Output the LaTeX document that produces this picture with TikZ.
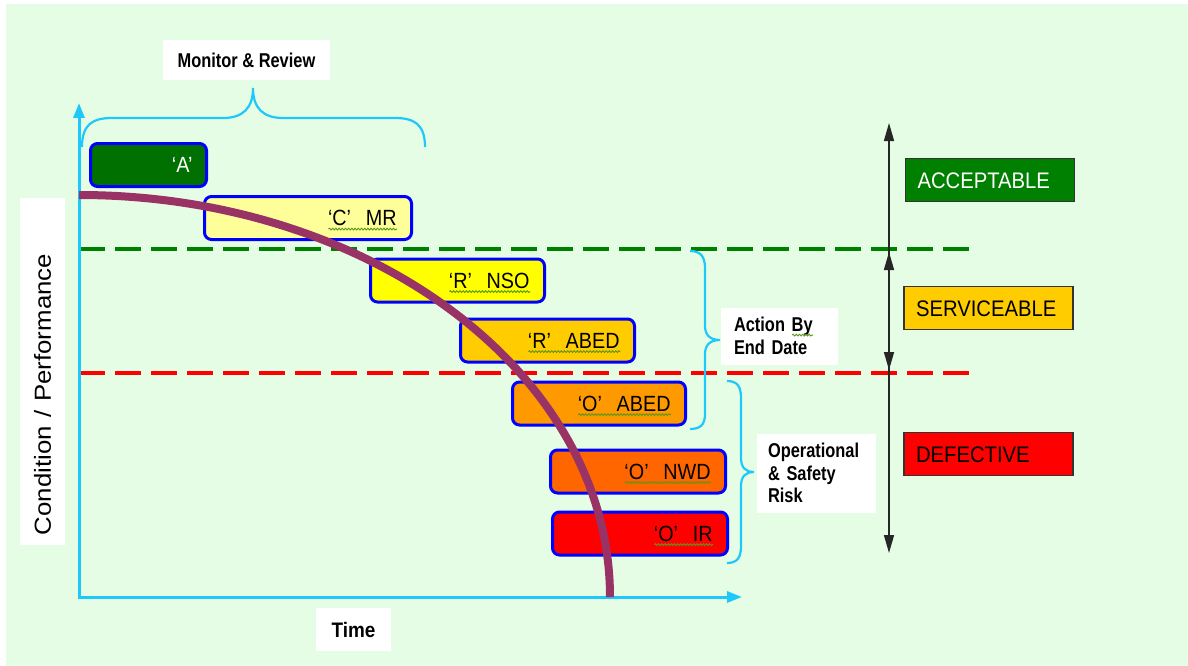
\documentclass[tikz,border=0pt]{standalone}
\usepackage{fontspec}
\usetikzlibrary{arrows.meta,decorations.pathmorphing}
\setmainfont{Liberation Sans}
\newfontfamily\labelfont[FakeStretch=0.9]{Liberation Sans}
\newfontfamily\narrowfont[FakeStretch=0.82]{Liberation Sans}

\definecolor{paper}{RGB}{229,253,229}
\definecolor{axiscyan}{RGB}{30,200,250}
\definecolor{decay}{RGB}{153,51,102}
\definecolor{boxblue}{RGB}{0,0,255}
\definecolor{stageA}{RGB}{0,112,0}
\definecolor{stageC}{RGB}{255,255,153}
\definecolor{stageRN}{RGB}{255,255,0}
\definecolor{stageRA}{RGB}{255,204,0}
\definecolor{stageOA}{RGB}{255,153,0}
\definecolor{stageON}{RGB}{255,102,0}
\definecolor{stageOI}{RGB}{255,0,0}
\definecolor{linegreen}{RGB}{0,128,0}
\definecolor{linered}{RGB}{255,0,0}
\definecolor{okgreen}{RGB}{0,128,0}
\definecolor{squiggle}{RGB}{90,150,30}

% wavy proofing underline in green, drawn below the word
\newdimen\squigwd
\newsavebox\squigbox
\newcommand\squig[1]{\sbox\squigbox{#1}\squigwd=\wd\squigbox\leavevmode\rlap{\usebox\squigbox}%
  \tikz[baseline=0pt,x=1pt,y=1pt,sharp corners]\draw[draw=squiggle, line width=0.9pt, solid,
    decorate, decoration={snake, amplitude=0.9pt, segment length=3.2pt}]
    (0pt,-3.2pt) -- (\squigwd,-3.2pt);}

\begin{document}
\begin{tikzpicture}[x=1pt,y=-1pt,
  stagebox/.style={draw=boxblue, line width=3pt, rounded corners=7pt,
    minimum height=43pt, inner xsep=14pt, inner ysep=0pt, align=right,
    text height=15.8pt, text depth=0pt,
    font=\labelfont\fontsize{22}{24}\selectfont},
  statusbox/.style={draw=black!80, line width=1.2pt, minimum height=43pt,
    inner xsep=12pt, inner ysep=0pt, align=left, text width=145pt,
    text height=16pt, text depth=0pt,
    font=\labelfont\fontsize{22.5}{24}\selectfont},
  whitelabel/.style={fill=white, inner ysep=0pt},
  narrowlabel/.style={whitelabel, font=\narrowfont\bfseries\fontsize{20}{22.5}\selectfont},
  axis/.style={draw=axiscyan, line width=3pt,
    {Triangle[length=15pt,width=11pt]}-{Triangle[length=15pt,width=11pt]}},
  bracepath/.style={draw=axiscyan, line width=2.2pt},
  thresh/.style={line width=3.5pt, dash pattern=on 26pt off 10pt},
  bandarrow/.style={draw=black!85, line width=1.5pt,
    {Triangle[length=18pt,width=10pt]}-{Triangle[length=18pt,width=10pt]}}
]
\useasboundingbox (0,0) rectangle (1188,666);
\fill[white] (0,0) rectangle (1188,666);
\fill[paper] (6,4) rectangle (1188,666);

% threshold lines
\draw[thresh, draw=linegreen] (79,249) -- (970,249);
\draw[thresh, draw=linered] (79,373) -- (970,373);

% axes
\coordinate (ytip) at (79,103);
\coordinate (origin) at (79,597);
\coordinate (xtip) at (742,597);
\draw[axis] (ytip) -- (origin) -- (xtip);

% condition stages
\node[stagebox, fill=stageA, text=white, text width=88pt] (sA) at (148.5,165) {‘A’};
\node[stagebox, fill=stageC, text width=179pt] (sC) at (308,218) {\squig{‘C’\ \ MR}};
\node[stagebox, fill=stageRN, text width=146pt] (sRN) at (457.5,280.5) {\squig{‘R’\ \ NSO}};
\node[stagebox, fill=stageRA, text width=146pt] (sRA) at (547.5,340.5) {\squig{‘R’\ \ ABED}};
\node[stagebox, fill=stageOA, text width=145pt] (sOA) at (599,403.5) {\squig{‘O’\ \ ABED}};
\node[stagebox, fill=stageON, text width=147pt] (sON) at (638,471.5) {\squig{‘O’\ \ NWD}};
\node[stagebox, fill=stageOI, text width=147pt] (sOI) at (640,533.5) {\squig{‘O’\ \ IR}};

% deterioration curve
\draw[draw=decay, line width=8pt] (79,195) .. controls (372.3,195) and (610,375) .. (610,597);

% braces
\draw[bracepath] (82,147) .. controls (82,125) and (92,118) .. (112,118) -- (223,118)
  .. controls (243,118) and (253,108) .. (253,88)
  .. controls (253,108) and (263,118) .. (283,118) -- (395,118)
  .. controls (415,118) and (425,125) .. (425,147);
\draw[bracepath] (690,251) .. controls (700,251) and (705,256) .. (705,268) -- (705,326)
  .. controls (705,335) and (710,340) .. (720,340)
  .. controls (710,340) and (705,345) .. (705,354) -- (705,414)
  .. controls (705,425) and (700,429) .. (690,429);
\draw[bracepath] (727,381) .. controls (737,381) and (741,386) .. (741,398) -- (741,458)
  .. controls (741,467) and (745,472) .. (754,472)
  .. controls (745,472) and (741,477) .. (741,486) -- (741,546)
  .. controls (741,558) and (737,563) .. (727,563);

% labels
\node[narrowlabel, minimum width=167pt, minimum height=40pt, text height=14.3pt, text depth=0pt] (monitor) at (246.5,60) {Monitor \& Review};
\node[narrowlabel, minimum width=117pt, minimum height=57pt, inner xsep=13pt, text width=91pt, align=left] (action) at (779.5,336) {Action \squig{By}\\End Date};
\node[narrowlabel, minimum width=119pt, minimum height=79pt, inner xsep=11pt, text width=97pt, align=left] (risk) at (816.5,473) {Operational\\\& Safety\\Risk};
\node[whitelabel, rotate=90, minimum width=347pt, minimum height=45pt, inner xsep=10pt, text width=327pt, align=left,
  font=\fontsize{25.8}{28}\selectfont] (ylabel) at (42.5,371.5) {\scalebox{1}[0.9]{Condition / Performance}};
\node[whitelabel, minimum width=75pt, minimum height=43pt, text height=15pt, text depth=0pt,
  font=\labelfont\bfseries\fontsize{21}{24}\selectfont] (xlabel) at (353.5,629.5) {Time};

% condition bands
\coordinate (bandtop) at (889,123);
\coordinate (bandbottom) at (889,553);
\coordinate (servtop) at (889,252);
\coordinate (servbottom) at (889,370);
\draw[bandarrow] (bandtop) -- (bandbottom);
\draw[bandarrow] (servtop) -- (servbottom);

\node[statusbox, fill=okgreen, text=white] (acc) at (990,180) {ACCEPTABLE};
\node[statusbox, fill=stageRA] (serv) at (988.5,308) {SERVICEABLE};
\node[statusbox, fill=stageOI] (def) at (988.5,454) {DEFECTIVE};
\end{tikzpicture}
\end{document}
